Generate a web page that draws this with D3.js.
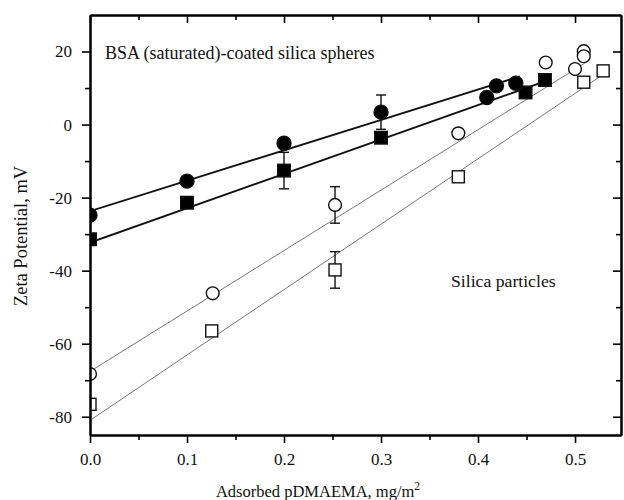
<!DOCTYPE html>
<html>
<head>
<meta charset="utf-8">
<script src="https://cdn.jsdelivr.net/npm/d3@7"></script>
<style>
  html, body { margin: 0; padding: 0; background: #fff; }
  svg { display: block; }
  text { font-family: "Liberation Serif", "Times New Roman", serif; fill: #111; }
</style>
</head>
<body>
<svg id="chart" width="624" height="500"></svg>
<script>
// BSA (saturated)-coated silica spheres (filled circles)
const bsaCircleX = [0, 0.1, 0.2, 0.3, 0.409, 0.419, 0.439];
const bsaCircleY = [-24.8, -15.5, -5.1, 3.4, 7.4, 10.6, 11.3];
// BSA (saturated)-coated silica spheres (filled squares)
const bsaSquareX = [0, 0.1, 0.2, 0.3, 0.449, 0.469];
const bsaSquareY = [-31.4, -21.4, -12.6, -3.6, 8.8, 12.2];
// Bare silica particles (open circles)
const silicaCircleX = [0, 0.1265, 0.2526, 0.3797, 0.4698, 0.5, 0.509, 0.509];
const silicaCircleY = [-68.3, -46.2, -22.0, -2.4, 17.0, 15.2, 20.1, 18.7];
// Bare silica particles (open squares)
const silicaSquareX = [0, 0.1255, 0.2526, 0.3797, 0.509, 0.529];
const silicaSquareY = [-76.6, -56.5, -39.8, -14.3, 11.6, 14.7];

// Error bars: which series, which point, +/- half-width in mV
const errSeries = ["bsaCircle", "bsaSquare", "silicaCircle", "silicaSquare"];
const errIndex = [3, 2, 2, 2];
const errHalf = [4.7, 5, 5, 5];

// Linear fit lines: start/end of each fitted line
const fitNames = ["bsaCircle", "bsaSquare", "silicaCircle", "silicaSquare"];
const fitX0 = [0, 0, 0, 0];
const fitY0 = [-23.7, -32.3, -67.6, -81.0];
const fitX1 = [0.443, 0.469, 0.51, 0.53];
const fitY1 = [13.2, 11.8, 16.8, 13.9];

// Axis ticks
const xMajor = [0, 0.1, 0.2, 0.3, 0.4, 0.5];
const xMinor = [0.05, 0.15, 0.25, 0.35, 0.45];
const yMajor = [-80, -60, -40, -20, 0, 20];
const yMinor = [-70, -50, -30, -10, 10];

const svg = d3.select("#chart");
const mLeft = 90, mRight = 621, mTop = 15, mBottom = 435;

const x = d3.scaleLinear().domain([0, 0.5474]).range([mLeft, mRight]);
const y = d3.scaleLinear().domain([-85, 30]).range([mBottom, mTop]);

const series = {
  bsaCircle: { xs: bsaCircleX, ys: bsaCircleY, shape: "circle", fill: "#000" },
  bsaSquare: { xs: bsaSquareX, ys: bsaSquareY, shape: "square", fill: "#000" },
  silicaCircle: { xs: silicaCircleX, ys: silicaCircleY, shape: "circle", fill: "#fff" },
  silicaSquare: { xs: silicaSquareX, ys: silicaSquareY, shape: "square", fill: "#fff" }
};

svg.append("defs").append("clipPath").attr("id", "plotClip")
  .append("rect").attr("x", mLeft).attr("y", mTop)
  .attr("width", mRight - mLeft).attr("height", mBottom - mTop);

const plot = svg.append("g").attr("clip-path", "url(#plotClip)");

// Fit lines
fitNames.forEach((name, i) => {
  const thick = series[name].fill === "#000";
  plot.append("line")
    .attr("x1", x(fitX0[i])).attr("y1", y(fitY0[i]))
    .attr("x2", x(fitX1[i])).attr("y2", y(fitY1[i]))
    .attr("stroke", thick ? "#111" : "#777")
    .attr("stroke-width", thick ? 1.9 : 1);
});

// Error bars
errSeries.forEach((name, i) => {
  const s = series[name];
  const px = x(s.xs[errIndex[i]]);
  const v = s.ys[errIndex[i]];
  const g = plot.append("g").attr("stroke", "#111").attr("stroke-width", 1.4);
  g.append("line").attr("x1", px).attr("x2", px)
    .attr("y1", y(v + errHalf[i])).attr("y2", y(v - errHalf[i]));
  [v + errHalf[i], v - errHalf[i]].forEach(e => {
    g.append("line").attr("x1", px - 5).attr("x2", px + 5)
      .attr("y1", y(e)).attr("y2", y(e));
  });
});

// Markers
const drawOrder = ["silicaCircle", "silicaSquare", "bsaSquare", "bsaCircle"];
drawOrder.forEach(name => {
  const s = series[name];
  const pts = s.xs.map((xv, i) => [xv, s.ys[i]]);
  const g = plot.append("g");
  if (s.shape === "circle") {
    g.selectAll("circle").data(pts).join("circle")
      .attr("cx", d => x(d[0])).attr("cy", d => y(d[1]))
      .attr("r", s.fill === "#000" ? 7 : 6.4)
      .attr("fill", s.fill).attr("stroke", "#111").attr("stroke-width", 1.4);
  } else {
    const half = s.fill === "#000" ? 6.3 : 6;
    g.selectAll("rect").data(pts).join("rect")
      .attr("x", d => x(d[0]) - half).attr("y", d => y(d[1]) - half)
      .attr("width", 2 * half).attr("height", 2 * half)
      .attr("fill", s.fill).attr("stroke", "#111").attr("stroke-width", 1.4);
  }
});

// Axes
function styleAxis(g) {
  g.select(".domain").attr("stroke", "#000").attr("stroke-width", 2);
  g.selectAll(".tick line").attr("stroke", "#000").attr("stroke-width", 1.6);
  g.selectAll(".tick text").attr("font-size", 17)
    .attr("font-family", "'Liberation Serif', serif").attr("fill", "#111");
}

const fmtX = d3.format(".1f");
svg.append("g").attr("transform", `translate(0,${mBottom})`)
  .call(d3.axisBottom(x).tickValues(xMajor).tickSize(8).tickPadding(10)
    .tickFormat(fmtX).tickSizeOuter(0))
  .call(styleAxis);
svg.append("g").attr("transform", `translate(0,${mBottom})`)
  .call(d3.axisBottom(x).tickValues(xMinor).tickSize(5).tickFormat("").tickSizeOuter(0))
  .call(styleAxis);
svg.append("g").attr("transform", `translate(${mLeft},0)`)
  .call(d3.axisLeft(y).tickValues(yMajor).tickSize(8).tickPadding(10)
    .tickFormat(d => String(d)).tickSizeOuter(0))
  .call(styleAxis);
svg.append("g").attr("transform", `translate(${mLeft},0)`)
  .call(d3.axisLeft(y).tickValues(yMinor).tickSize(5).tickFormat("").tickSizeOuter(0))
  .call(styleAxis);

// Mirrored top and right axes with inward ticks
svg.append("g").attr("transform", `translate(0,${mTop})`)
  .call(d3.axisBottom(x).tickValues(xMajor).tickSize(8).tickFormat("").tickSizeOuter(0))
  .call(styleAxis);
svg.append("g").attr("transform", `translate(0,${mTop})`)
  .call(d3.axisBottom(x).tickValues(xMinor).tickSize(5).tickFormat("").tickSizeOuter(0))
  .call(styleAxis);
svg.append("g").attr("transform", `translate(${mRight},0)`)
  .call(d3.axisLeft(y).tickValues(yMajor).tickSize(8).tickFormat("").tickSizeOuter(0))
  .call(styleAxis);
svg.append("g").attr("transform", `translate(${mRight},0)`)
  .call(d3.axisLeft(y).tickValues(yMinor).tickSize(5).tickFormat("").tickSizeOuter(0))
  .call(styleAxis);

// Annotations
svg.append("text").attr("x", 105).attr("y", 58.5).attr("font-size", 18)
  .text("BSA (saturated)-coated silica spheres");
svg.append("text").attr("x", 451).attr("y", 287).attr("font-size", 17.7)
  .text("Silica particles");

// Axis titles
const xt = svg.append("text").attr("x", 318).attr("y", 497)
  .attr("text-anchor", "middle").attr("font-size", 16.5);
xt.append("tspan").text("Adsorbed pDMAEMA, mg/m");
xt.append("tspan").attr("font-size", 11.5).attr("dy", -7).text("2");

svg.append("text")
  .attr("transform", "translate(27,236) rotate(-90)")
  .attr("text-anchor", "middle").attr("font-size", 18.5)
  .text("Zeta Potential, mV");
</script>
</body>
</html>
